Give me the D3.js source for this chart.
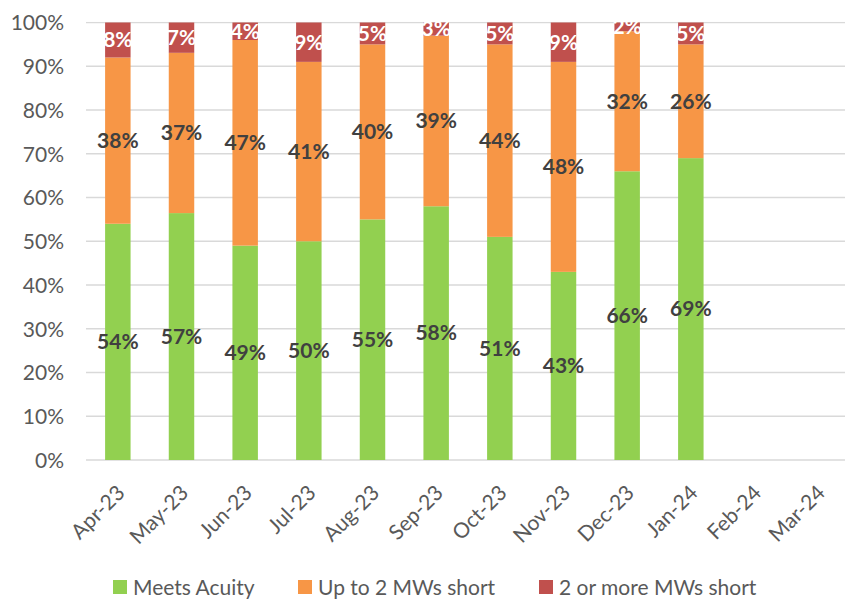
<!DOCTYPE html>
<html>
<head>
<meta charset="utf-8">
<script src="https://cdn.jsdelivr.net/npm/d3@7/dist/d3.min.js"></script>
<style>
  body { margin: 0; background: #fff; }
  svg { display: block; font-family: Lato, "Open Sans", "Liberation Sans", sans-serif; }
</style>
</head>
<body>
<svg id="chart" width="845" height="599"></svg>
<script>
// Monthly staffing acuity split (percent of shifts)
const months = ["Apr-23", "May-23", "Jun-23", "Jul-23", "Aug-23", "Sep-23",
                "Oct-23", "Nov-23", "Dec-23", "Jan-24", "Feb-24", "Mar-24"];
const meetsAcuity = [54, 57, 49, 50, 55, 58, 51, 43, 66, 69, null, null];
const upTo2Short  = [38, 37, 47, 41, 40, 39, 44, 48, 32, 26, null, null];
const twoOrMore   = [8, 7, 4, 9, 5, 3, 5, 9, 2, 5, null, null];
const yTicks = [0, 0.1, 0.2, 0.3, 0.4, 0.5, 0.6, 0.7, 0.8, 0.9, 1.0];

const seriesNames = ["Meets Acuity", "Up to 2 MWs short", "2 or more MWs short"];
const seriesKeys = ["meets", "upto2", "twoplus"];
const colors = ["#92D050", "#F79646", "#C0504D"];
const labelColors = ["#404040", "#404040", "#FFFFFF"];

const rows = months.map((m, i) => ({
  month: m,
  meets: meetsAcuity[i] || 0,
  upto2: upTo2Short[i] || 0,
  twoplus: twoOrMore[i] || 0,
  hasData: meetsAcuity[i] != null
}));

const svg = d3.select("#chart");
const plotTop = 22.5;
const plotBottom = 460;

const x = d3.scaleBand().domain(months).range([86, 850]).paddingInner(0.6).paddingOuter(0.3);
const y = d3.scaleLinear().domain([0, 1]).range([plotBottom, plotTop]);

// gridlines (behind bars)
svg.append("g").selectAll("line").data(yTicks).join("line")
  .attr("x1", 86).attr("x2", 845)
  .attr("y1", d => y(d)).attr("y2", d => y(d))
  .attr("stroke", "#D9D9D9").attr("stroke-width", 1.3);

// y axis labels
const yAxis = d3.axisLeft(y).tickValues(yTicks).tickFormat(d3.format(".0%")).tickSize(0).tickPadding(0);
svg.append("g").attr("transform", "translate(64,0)").call(yAxis)
  .call(g => g.select(".domain").remove())
  .selectAll("text")
  .attr("fill", "#595959").attr("font-size", 21).attr("font-family", "Lato, sans-serif").attr("dy", "0.35em");

const stack = d3.stack().keys(seriesKeys).offset(d3.stackOffsetExpand);
const stacked = stack(rows.filter(r => r.hasData));

const layers = svg.append("g").selectAll("g").data(stacked).join("g")
  .attr("fill", (d, i) => colors[i]);
layers.selectAll("rect").data(d => d).join("rect")
  .attr("x", d => x(d.data.month))
  .attr("width", x.bandwidth())
  .attr("y", d => y(d[1]))
  .attr("height", d => y(d[0]) - y(d[1]));

// segment value labels
const labels = svg.append("g").attr("font-weight", "bold").attr("font-size", 21).attr("text-anchor", "middle");
stacked.forEach((layer, i) => {
  labels.selectAll(null).data(layer).join("text")
    .attr("x", d => x(d.data.month) + x.bandwidth() / 2)
    .attr("y", d => y((d[0] + d[1]) / 2))
    .attr("dy", "0.35em")
    .attr("fill", labelColors[i])
    .text(d => d.data[seriesKeys[i]] + "%");
});

// white band above the plot hides label overflow
svg.append("rect").attr("x", 80).attr("y", 0).attr("width", 765).attr("height", plotTop - 0.6).attr("fill", "#fff");

// rotated month labels
svg.append("g").selectAll("text").data(months).join("text")
  .attr("transform", d => `translate(${x(d) + x.bandwidth() / 2 + 3},${plotBottom + 29}) rotate(-45)`)
  .attr("text-anchor", "end").attr("dy", "0.35em")
  .attr("fill", "#595959").attr("font-size", 21)
  .text(d => d);

// legend
const legendX = [113, 298, 539];
const legend = svg.append("g").selectAll("g").data(seriesNames).join("g")
  .attr("transform", (d, i) => `translate(${legendX[i]},580)`);
legend.append("rect").attr("width", 14).attr("height", 14).attr("fill", (d, i) => colors[i]);
legend.append("text").attr("x", 20).attr("y", 7).attr("dy", "0.36em")
  .attr("fill", "#595959").attr("font-size", 21).text(d => d);
</script>
</body>
</html>
